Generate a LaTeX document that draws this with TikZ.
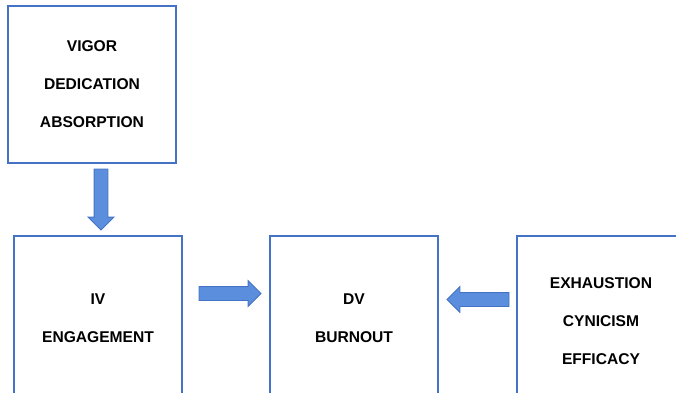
\documentclass[tikz,border=0pt]{standalone}
\usepackage{fontspec}
\setmainfont{Liberation Sans}
\usetikzlibrary{shapes.arrows}
\definecolor{boxblue}{RGB}{68,114,196}
\definecolor{arrowblue}{RGB}{91,143,222}
\begin{document}
\begin{tikzpicture}[x=1pt,y=-1pt,
        box/.style={draw=boxblue,line width=1.2pt,minimum width=168pt,align=center,inner sep=0pt,font=\fontsize{15.6}{38}\selectfont\bfseries},
        barrow/.style={single arrow,draw=boxblue,fill=arrowblue,line width=0.8pt,inner xsep=0pt,inner ysep=6.5pt,single arrow head extend=6pt,anchor=tail,outer sep=0pt}]
        \useasboundingbox (0,0) rectangle (676,392);
        \clip (0,0) rectangle (676,392);
        \node[box,minimum height=157pt] (vig) at (92,84.5) {VIGOR\\DEDICATION\\ABSORPTION};
        \node[box,minimum height=164pt] (iv) at (98,318) {IV\\ENGAGEMENT};
        \node[box,minimum height=164pt] (dv) at (354,318) {DV\\BURNOUT};
        \node[box,minimum height=171pt] (bo) at (601,321.5) {EXHAUSTION\\CYNICISM\\EFFICACY};
        \node[barrow,minimum height=61pt,rotate=-90] (adown) at (101,169) {};
        \node[barrow,minimum height=62pt] (aright) at (199,293.5) {};
        \node[barrow,minimum height=62pt,rotate=180] (aleft) at (509,299.5) {};
\end{tikzpicture}
\end{document}
